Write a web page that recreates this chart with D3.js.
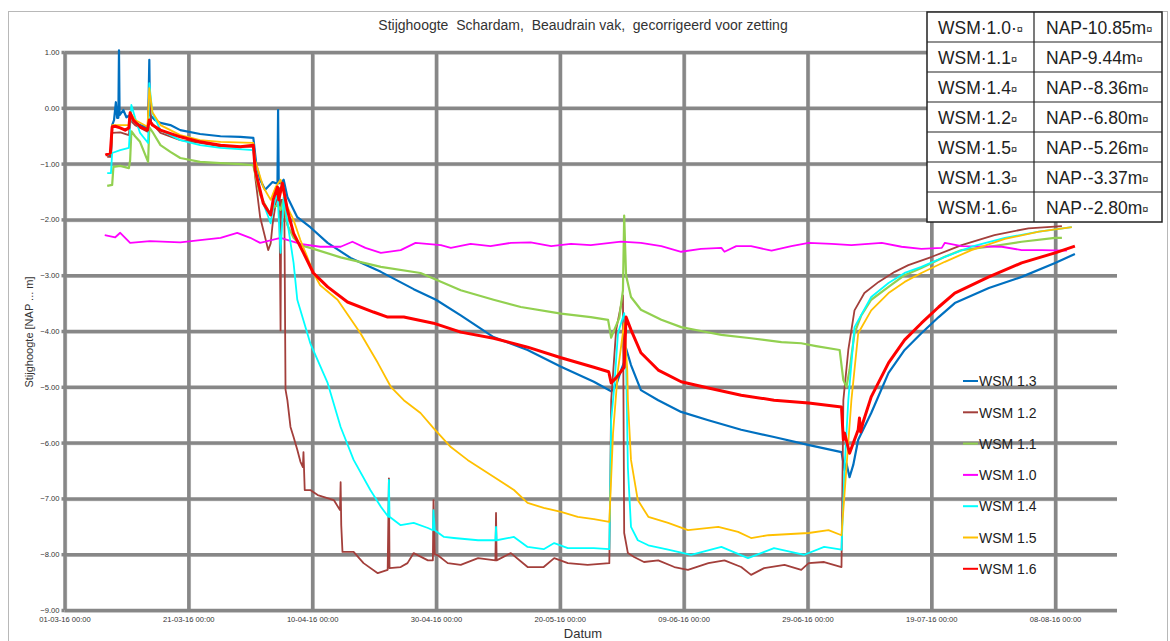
<!DOCTYPE html>
<html><head><meta charset="utf-8">
<script src="https://cdn.jsdelivr.net/npm/d3@7"></script>
<style>body{margin:0;background:#fff}svg{display:block}</style>
</head><body>
<svg id="chart" width="1170" height="641"></svg>
<script>
// ---------- DATA ----------
const startDate = new Date(2016, 2, 1);   // 01-03-16 00:00
const endDay = 170;                       // axis end, days after start
const xTickDays = [0, 20, 40, 60, 80, 100, 120, 140, 160];
const yTicks = [1, 0, -1, -2, -3, -4, -5, -6, -7, -8, -9];
const titleText = "Stijghoogte  Schardam,  Beaudrain vak,  gecorrigeerd voor zetting";
const yTitle = "Stijghoogte [NAP ... m]";
const xTitle = "Datum";

const seriesNames  = ["WSM 1.3", "WSM 1.2", "WSM 1.1", "WSM 1.0", "WSM 1.4", "WSM 1.5", "WSM 1.6"];
const seriesColors = ["#0070c0", "#a33f3b", "#92d050", "#ff00ff", "#00ffff", "#ffc000", "#ff0000"];
const seriesWidths = [2.2, 1.8, 2.2, 1.8, 1.8, 1.8, 3];

// [days since 01-03-16, stijghoogte m NAP]
const wsm13 = [[6.9,-0.85],[7.5,-0.85],[7.7,-0.31],[8.0,-0.22],[8.3,0.10],[8.5,-0.18],[8.7,-0.18],[8.8,1.03],[8.9,-0.13],[9.5,-0.04],[10.0,-0.17],[10.6,-0.13],[11.4,-0.26],[12.2,-0.31],[13.5,-0.36],[13.7,0.86],[13.8,-0.13],[14.6,-0.22],[15.5,-0.27],[17.1,-0.31],[18.7,-0.40],[21.9,-0.47],[25.2,-0.51],[28.4,-0.52],[30.5,-0.54],[31.0,-1.03],[31.6,-1.29],[32.4,-1.47],[33.6,-1.33],[34.1,-1.35],[34.4,-1.35],[34.5,-0.04],[34.6,-1.35],[34.9,-1.35],[35.4,-1.29],[36.0,-1.60],[37.6,-1.96],[39.7,-2.14],[42.5,-2.42],[46.2,-2.69],[51.1,-2.94],[56.4,-3.25],[60.0,-3.44],[64.0,-3.72],[69.3,-4.11],[74.8,-4.34],[80.2,-4.64],[85.5,-4.91],[88.3,-5.08],[89.1,-4.97],[89.9,-4.70],[90.4,-4.56],[90.7,-4.31],[91.5,-4.61],[93.1,-5.06],[95.9,-5.24],[99.6,-5.45],[104.0,-5.60],[109.3,-5.77],[114.6,-5.90],[120.1,-6.04],[125.5,-6.17],[126.0,-6.49],[126.3,-6.37],[126.8,-6.62],[127.4,-6.40],[128.2,-5.95],[130.3,-5.47],[133.1,-4.75],[135.7,-4.34],[138.4,-4.04],[141.2,-3.75],[143.8,-3.50],[149.3,-3.23],[154.6,-3.03],[160.0,-2.78],[163.2,-2.62]];

const wsm12 = [[6.9,-0.88],[7.5,-0.88],[7.7,-0.45],[9.0,-0.44],[10.4,-0.49],[10.6,-0.22],[11.4,-0.31],[13.4,-0.43],[13.7,0.35],[14.0,-0.26],[15.5,-0.45],[18.7,-0.58],[21.9,-0.63],[25.2,-0.69],[30.5,-0.70],[30.8,-1.24],[31.6,-1.96],[32.4,-2.32],[32.9,-2.55],[33.3,-2.43],[33.6,-2.10],[34.2,-1.65],[34.7,-1.44],[34.9,-3.99],[35.0,-1.65],[35.5,-1.65],[35.7,-5.05],[36.0,-5.24],[36.5,-5.72],[37.0,-5.90],[37.6,-6.13],[38.1,-6.34],[38.5,-6.44],[38.6,-6.17],[38.8,-6.85],[39.7,-6.85],[40.9,-6.94],[43.5,-7.03],[44.5,-7.21],[44.6,-6.71],[44.7,-7.48],[44.9,-7.96],[46.7,-7.96],[48.3,-8.16],[50.6,-8.34],[52.2,-8.28],[52.4,-6.64],[52.5,-8.25],[54.3,-8.23],[55.4,-8.16],[56.4,-7.98],[58.7,-8.11],[59.5,-8.11],[59.6,-7.03],[59.8,-8.00],[60.3,-8.02],[61.9,-8.16],[64.0,-8.19],[66.8,-8.07],[69.6,-8.11],[69.7,-7.26],[69.8,-8.11],[72.1,-7.98],[74.8,-8.23],[77.4,-8.23],[79.1,-8.07],[81.3,-8.16],[84.5,-8.19],[88.0,-8.16],[88.3,-5.24],[89.1,-3.98],[90.2,-3.36],[90.4,-7.62],[91.0,-7.98],[92.0,-8.05],[93.6,-8.14],[95.9,-8.11],[98.5,-8.23],[100.7,-8.28],[104.0,-8.16],[106.6,-8.11],[109.3,-8.23],[110.9,-8.37],[113.0,-8.25],[116.3,-8.19],[119.0,-8.28],[120.2,-8.16],[122.7,-8.14],[125.5,-8.23],[125.8,-5.24],[126.6,-4.34],[127.6,-3.63],[129.2,-3.32],[131.5,-3.12],[134.1,-2.94],[136.3,-2.82],[140.1,-2.67],[144.9,-2.46],[150.2,-2.28],[155.7,-2.16],[161.1,-2.12]];

const wsm11 = [[6.9,-1.40],[7.7,-1.38],[7.9,-1.06],[9.0,-1.04],[10.4,-1.08],[10.6,-0.94],[10.8,-0.42],[11.4,-0.51],[12.2,-0.61],[13.5,-0.97],[13.7,-0.35],[14.2,-0.43],[15.5,-0.67],[17.1,-0.79],[18.7,-0.90],[21.9,-0.97],[25.2,-0.99],[28.4,-1.01],[30.5,-1.03],[31.0,-1.29],[31.6,-1.56],[32.4,-1.74],[33.3,-1.92],[33.7,-1.80],[34.4,-1.74],[34.9,-1.83],[35.4,-1.65],[36.0,-2.10],[37.0,-2.33],[38.1,-2.46],[39.7,-2.51],[44.6,-2.68],[51.1,-2.85],[57.5,-2.96],[64.0,-3.27],[69.3,-3.44],[73.7,-3.57],[80.2,-3.69],[85.0,-3.75],[87.8,-3.80],[88.3,-4.12],[88.8,-3.98],[89.6,-3.77],[90.2,-3.27],[90.4,-1.93],[90.7,-3.00],[91.5,-3.39],[93.1,-3.62],[96.4,-3.80],[99.6,-3.93],[102.8,-4.00],[106.1,-4.07],[110.9,-4.13],[115.8,-4.20],[119.0,-4.22],[121.4,-4.27],[125.2,-4.34],[125.8,-4.88],[126.3,-5.00],[126.8,-4.70],[127.6,-4.04],[128.7,-3.72],[130.3,-3.44],[133.1,-3.21],[135.7,-3.00],[138.4,-2.87],[142.2,-2.67],[144.9,-2.55],[149.3,-2.49],[154.6,-2.40],[160.0,-2.33],[161.1,-2.33]];

const wsm10 = [[6.5,-2.28],[8.2,-2.32],[9.0,-2.24],[10.6,-2.42],[13.8,-2.39],[18.7,-2.41],[21.9,-2.37],[25.2,-2.33],[27.9,-2.24],[30.0,-2.33],[31.6,-2.42],[34.9,-2.33],[38.1,-2.44],[41.3,-2.49],[44.6,-2.49],[46.5,-2.40],[48.6,-2.51],[51.1,-2.60],[54.3,-2.55],[56.7,-2.42],[60.8,-2.46],[62.4,-2.51],[65.6,-2.44],[68.8,-2.48],[72.1,-2.42],[75.3,-2.41],[78.6,-2.48],[81.8,-2.44],[85.0,-2.46],[89.9,-2.40],[93.1,-2.42],[96.4,-2.48],[99.6,-2.58],[102.8,-2.53],[106.1,-2.51],[106.6,-2.58],[108.5,-2.48],[110.9,-2.48],[114.2,-2.56],[117.4,-2.48],[120.2,-2.42],[123.9,-2.44],[127.1,-2.46],[132.0,-2.42],[135.2,-2.49],[138.4,-2.53],[141.7,-2.51],[142.2,-2.42],[144.9,-2.48],[151.4,-2.49],[154.6,-2.55],[157.9,-2.55],[161.9,-2.56]];

const wsm14 = [[6.9,-1.17],[7.5,-1.17],[7.7,-0.81],[9.0,-0.76],[10.4,-0.72],[10.8,0.05],[11.4,-0.18],[12.2,-0.45],[13.5,-0.63],[13.7,0.44],[14.2,-0.09],[15.5,-0.40],[18.7,-0.58],[21.9,-0.67],[25.2,-0.72],[30.5,-0.76],[31.2,-1.29],[32.1,-1.71],[33.3,-2.07],[33.7,-1.78],[34.4,-1.53],[34.9,-2.60],[35.4,-1.60],[36.2,-2.19],[37.0,-2.78],[37.6,-3.44],[39.7,-4.22],[42.5,-4.93],[44.6,-5.72],[46.7,-6.31],[49.4,-6.85],[51.1,-7.15],[52.3,-7.33],[52.4,-6.67],[52.5,-7.33],[54.3,-7.48],[56.4,-7.44],[58.7,-7.53],[59.5,-7.57],[59.6,-7.21],[59.8,-7.57],[61.3,-7.69],[62.9,-7.71],[66.8,-7.75],[69.6,-7.75],[69.7,-7.51],[69.8,-7.75],[72.6,-7.69],[74.8,-7.87],[77.4,-7.91],[79.1,-7.80],[81.3,-7.89],[85.5,-7.89],[88.0,-7.91],[88.3,-5.60],[88.8,-5.00],[89.4,-4.04],[90.4,-3.68],[90.7,-4.52],[91.0,-6.45],[91.5,-7.51],[92.6,-7.75],[94.3,-7.84],[97.5,-7.92],[101.2,-8.01],[106.1,-7.87],[110.4,-8.07],[114.6,-7.89],[119.5,-8.01],[122.7,-7.87],[125.5,-7.92],[126.0,-6.44],[126.6,-5.24],[127.6,-3.93],[130.3,-3.39],[133.1,-3.14],[135.7,-2.96],[138.4,-2.85],[142.2,-2.67],[146.5,-2.49],[151.9,-2.33],[157.4,-2.22],[162.7,-2.14]];

const wsm15 = [[6.9,-0.85],[7.5,-0.81],[7.7,-0.31],[9.0,-0.31],[10.4,-0.31],[10.6,-0.08],[11.4,-0.22],[13.4,-0.34],[13.7,0.35],[14.2,-0.08],[15.5,-0.31],[18.7,-0.49],[21.9,-0.58],[25.2,-0.61],[30.5,-0.63],[30.8,-0.94],[32.1,-1.42],[33.3,-1.65],[34.1,-1.42],[34.9,-1.29],[35.4,-1.53],[36.0,-1.78],[37.0,-2.01],[38.1,-2.37],[39.2,-2.67],[40.2,-2.96],[41.3,-3.18],[44.1,-3.44],[47.8,-4.04],[50.6,-4.57],[52.7,-5.00],[54.8,-5.24],[57.5,-5.47],[59.6,-5.74],[62.4,-6.08],[65.1,-6.31],[69.3,-6.61],[72.6,-6.85],[74.8,-7.08],[77.4,-7.17],[80.2,-7.24],[82.9,-7.33],[85.5,-7.37],[88.0,-7.42],[88.6,-5.83],[89.4,-4.70],[90.4,-3.86],[90.9,-4.70],[91.0,-5.24],[91.5,-6.31],[92.6,-7.03],[94.3,-7.33],[97.5,-7.44],[100.7,-7.57],[105.6,-7.51],[108.8,-7.60],[110.9,-7.71],[113.7,-7.66],[120.2,-7.62],[123.4,-7.57],[125.5,-7.66],[126.0,-6.90],[127.1,-5.24],[128.2,-4.04],[130.3,-3.63],[133.1,-3.32],[135.7,-3.12],[138.4,-2.96],[142.2,-2.76],[146.5,-2.55],[151.9,-2.35],[157.4,-2.22],[162.7,-2.14]];

const wsm16 = [[6.6,-0.85],[7.4,-0.81],[7.7,-0.34],[8.2,-0.33],[9.0,-0.36],[9.8,-0.40],[10.4,-0.36],[10.6,-0.09],[11.1,-0.22],[12.2,-0.34],[13.4,-0.40],[13.7,-0.22],[14.2,-0.31],[15.5,-0.40],[18.7,-0.52],[21.9,-0.61],[25.2,-0.67],[28.4,-0.70],[30.5,-0.67],[30.8,-1.12],[32.1,-1.71],[33.3,-1.92],[33.7,-1.65],[34.4,-1.42],[34.6,-1.65],[35.2,-1.35],[36.0,-1.83],[37.0,-2.25],[38.6,-2.60],[40.2,-2.96],[42.5,-3.21],[45.7,-3.48],[49.9,-3.66],[52.2,-3.75],[54.8,-3.75],[59.6,-3.86],[64.0,-4.02],[69.3,-4.13],[74.8,-4.29],[80.2,-4.48],[85.5,-4.65],[87.9,-4.73],[88.3,-4.93],[89.1,-4.84],[90.4,-4.65],[90.7,-3.75],[91.5,-3.98],[93.1,-4.39],[95.9,-4.70],[99.6,-4.91],[104.0,-5.02],[109.3,-5.15],[114.6,-5.24],[120.2,-5.29],[125.5,-5.36],[125.8,-5.95],[126.0,-5.83],[126.8,-6.19],[127.6,-5.95],[128.2,-5.77],[128.4,-5.56],[128.6,-5.81],[129.0,-5.63],[130.3,-5.18],[133.1,-4.57],[135.7,-4.16],[138.4,-3.86],[141.2,-3.57],[143.8,-3.32],[149.3,-3.03],[154.6,-2.78],[160.0,-2.60],[163.2,-2.48]];

const seriesData = [wsm13, wsm12, wsm11, wsm10, wsm14, wsm15, wsm16];

const tableWells  = ["WSM·1.0·", "WSM·1.1", "WSM·1.4", "WSM·1.2", "WSM·1.5", "WSM·1.3", "WSM·1.6"];
const tableLevels = ["NAP-10.85m", "NAP-9.44m", "NAP·-8.36m", "NAP·-6.80m", "NAP·-5.26m", "NAP·-3.37m", "NAP·-2.80m"];
const cellMark = "¤";

// ---------- DRAWING ----------
const svg = d3.select("#chart");
const dayToDate = d => new Date(startDate.getTime() + d * 864e5);
const FONT = "Liberation Sans, Arial, sans-serif";

const x = d3.scaleTime().domain([startDate, dayToDate(endDay)]).range([64.5, 1117]);
const y = d3.scaleLinear().domain([-9, 1]).range([610, 52]);

// outer frame
svg.append("rect").attr("x", 8.5).attr("y", 11.5).attr("width", 1159).attr("height", 640)
  .attr("fill", "none").attr("stroke", "#b8b8b8").attr("stroke-width", 1);

// title
svg.append("text").attr("x", 583).attr("y", 30).attr("text-anchor", "middle")
  .style("white-space", "pre").attr("font-family", FONT)
  .attr("font-size", 14).attr("fill", "#333").text(titleText);

const grid = svg.append("g");
const gw = 3.5;
grid.selectAll("line.hs").data(yTicks).join("line")
  .attr("x1", x.range()[0]).attr("x2", x.range()[1])
  .attr("y1", d => y(d) + 2).attr("y2", d => y(d) + 2)
  .attr("stroke", "#d0d0d0").attr("stroke-width", 1.5);
grid.selectAll("line.vs").data(xTickDays).join("line")
  .attr("x1", d => x(dayToDate(d)) + 2).attr("x2", d => x(dayToDate(d)) + 2)
  .attr("y1", y.range()[1]).attr("y2", y.range()[0])
  .attr("stroke", "#d0d0d0").attr("stroke-width", 1.5);

const xAxis = d3.axisBottom(x)
  .tickValues(xTickDays.map(dayToDate))
  .tickFormat(d3.timeFormat("%d-%m-%y %H:%M"))
  .tickSize(-(y.range()[0] - y.range()[1])).tickPadding(7);
const gx = svg.append("g").attr("transform", `translate(0,${y.range()[0]})`).call(xAxis);

const yAxis = d3.axisLeft(y).tickValues(yTicks).tickFormat(d3.format(".2f"))
  .tickSize(-(x.range()[1] - x.range()[0])).tickPadding(5);
const gy = svg.append("g").attr("transform", `translate(${x.range()[0]},0)`).call(yAxis);

[gx, gy].forEach(g => {
  g.select(".domain").remove();
  g.selectAll(".tick line").attr("stroke", "#878787").attr("stroke-width", gw);
  g.selectAll(".tick text").attr("font-family", FONT)
    .attr("font-size", 7.6).attr("fill", "#333");
});
gy.selectAll(".tick").append("line").attr("x1", -3).attr("x2", 0)
  .attr("stroke", "#878787").attr("stroke-width", gw);

// axis titles
svg.append("text").attr("transform", "translate(33,332) rotate(-90)")
  .attr("text-anchor", "middle").attr("font-family", FONT)
  .attr("font-size", 11).attr("fill", "#333").text(yTitle);
svg.append("text").attr("x", 583).attr("y", 638).attr("text-anchor", "middle")
  .attr("font-family", FONT)
  .attr("font-size", 13).attr("fill", "#333").text(xTitle);

// series
const line = d3.line().x(d => x(dayToDate(d[0]))).y(d => y(d[1]));
svg.append("g").selectAll("path").data(seriesData).join("path")
  .attr("d", line).attr("fill", "none")
  .attr("stroke", (d, i) => seriesColors[i])
  .attr("stroke-width", (d, i) => seriesWidths[i])
  .attr("stroke-linejoin", "round");

// legend
const lg = svg.append("g").attr("transform", "translate(963,381)");
const li = lg.selectAll("g").data(seriesNames).join("g")
  .attr("transform", (d, i) => `translate(0,${i * 31.3})`);
li.append("line").attr("x1", 0).attr("x2", 15).attr("y1", 0).attr("y2", 0)
  .attr("stroke", (d, i) => seriesColors[i]).attr("stroke-width", 2);
li.append("text").attr("x", 16).attr("y", 5.2).attr("font-family", FONT)
  .attr("font-size", 14).attr("fill", "#222").text(d => d);

// table
const tb = svg.append("g").attr("transform", "translate(927,12)");
const rowH = 30, col1 = 107, col2 = 128;
tb.append("rect").attr("x", 0).attr("y", 0).attr("width", col1 + col2)
  .attr("height", rowH * tableWells.length).attr("fill", "#fff")
  .attr("stroke", "#222").attr("stroke-width", 1.5);
tb.selectAll("line.r").data(d3.range(1, tableWells.length)).join("line")
  .attr("x1", 0).attr("x2", col1 + col2).attr("y1", d => d * rowH).attr("y2", d => d * rowH)
  .attr("stroke", "#222").attr("stroke-width", 1.2);
tb.append("line").attr("x1", col1).attr("x2", col1).attr("y1", 0).attr("y2", rowH * tableWells.length)
  .attr("stroke", "#222").attr("stroke-width", 1.2);
const addCell = (arr, cx) => {
  const t = tb.selectAll(null).data(arr).join("text")
    .attr("x", cx).attr("y", (d, i) => i * rowH + 21.5)
    .attr("font-family", FONT)
    .attr("font-size", 17.5).attr("fill", "#222");
  t.append("tspan").text(d => d);
  t.append("tspan").attr("font-size", 11).attr("dy", -1).text(cellMark);
};
addCell(tableWells, 11);
addCell(tableLevels, col1 + 12);
</script>
</body></html>
